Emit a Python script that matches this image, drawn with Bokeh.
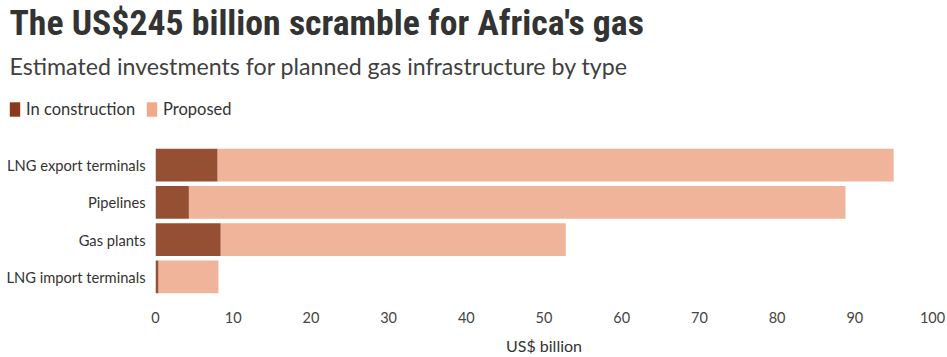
from bokeh.plotting import figure
from bokeh.models import Range1d, FactorRange, Legend, LegendItem, ColumnDataSource, FixedTicker, Label
from bokeh.layouts import column, row
from bokeh.embed import file_html
from bokeh.resources import INLINE

categories = ["LNG export terminals", "Pipelines", "Gas plants", "LNG import terminals"]
in_construction = [8.0, 4.3, 8.4, 0.4]
proposed = [87.0, 84.5, 44.4, 7.7]
x_ticks = [0, 10, 20, 30, 40, 50, 60, 70, 80, 90, 100]

series = ["In construction", "Proposed"]
colors = ["#955034", "#EFB499"]
legend_colors = ["#8A3A1C", "#EFAA88"]
title_text = "The US$245 billion scramble for Africa's gas"
subtitle_text = "Estimated investments for planned gas infrastructure by type"

FONT = "Source Sans Pro, Lato, sans-serif"

# ---- header (title, subtitle, legend) ----
hdr = figure(width=947, height=130, output_backend="svg", toolbar_location=None,
             x_range=Range1d(0, 1), y_range=Range1d(0, 1),
             min_border=0, min_border_left=0, min_border_right=0, min_border_top=0, min_border_bottom=0)
hdr.axis.visible = False
hdr.grid.visible = False
hdr.outline_line_color = None
off = ColumnDataSource(dict(l=[5], r=[6], b=[5], t=[6]))
dummies = [hdr.quad(left="l", right="r", bottom="b", top="t", source=off,
                    fill_color=c, line_color=None) for c in legend_colors]
legend = Legend(items=[LegendItem(label=series[i], renderers=[dummies[i]]) for i in range(2)],
                orientation="horizontal", location=(8, 11),
                glyph_width=13, glyph_height=18, label_standoff=5, spacing=10,
                padding=0, margin=0, border_line_color=None, background_fill_alpha=0,
                label_text_font=FONT, label_text_font_size="16.5px", label_text_color="#333333")
hdr.add_layout(legend, "center")
hdr.add_layout(Label(x=9, y=108, x_units="screen", y_units="screen", text=title_text,
                     text_font="Roboto Condensed, Liberation Sans Narrow, Roboto",
                     text_font_size="35.7px", text_font_style="bold", text_color="#333333",
                     text_baseline="alphabetic"))
hdr.add_layout(Label(x=9, y=65, x_units="screen", y_units="screen", text=subtitle_text,
                     text_font=FONT, text_font_size="23.2px", text_color="#404040",
                     text_baseline="alphabetic"))

# ---- chart ----
src = ColumnDataSource(dict(cat=categories, **{series[0]: in_construction, series[1]: proposed}))

p = figure(width=947, height=227, output_backend="svg", toolbar_location=None,
           x_range=Range1d(0, 100),
           y_range=FactorRange(factors=list(reversed(categories)), range_padding=0),
           min_border_left=155, min_border_right=15, min_border_bottom=58, min_border_top=16)

rs = p.hbar_stack(series, y="cat", height=0.88, color=colors, source=src, line_color=None)

p.outline_line_color = None
p.xgrid.grid_line_color = None
p.ygrid.grid_line_color = None

p.xaxis.ticker = FixedTicker(ticks=x_ticks)
p.xaxis.axis_line_color = None
p.xaxis.major_tick_line_color = None
p.xaxis.minor_tick_line_color = None
p.xaxis.major_label_standoff = 10
p.xaxis.major_label_text_font = FONT
p.xaxis.major_label_text_font_size = "14.5px"
p.xaxis.major_label_text_color = "#444444"
p.xaxis.axis_label = "US$ billion"
p.xaxis.axis_label_text_font = FONT
p.xaxis.axis_label_text_font_size = "16px"
p.xaxis.axis_label_text_font_style = "normal"
p.xaxis.axis_label_text_color = "#333333"
p.xaxis.axis_label_standoff = 10

p.yaxis.axis_line_color = None
p.yaxis.major_tick_line_color = None
p.yaxis.minor_tick_line_color = None
p.yaxis.major_label_standoff = 4
p.yaxis.major_label_text_font = FONT
p.yaxis.major_label_text_font_size = "14.7px"
p.yaxis.major_label_text_color = "#333333"

layout = column(row(hdr), p, spacing=0)
open("out.html", "w").write(file_html(layout, INLINE))
